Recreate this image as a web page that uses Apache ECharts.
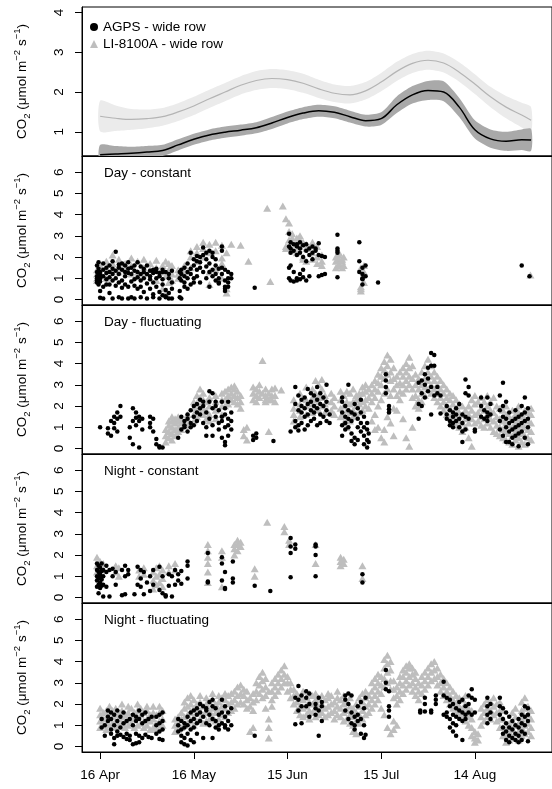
<!DOCTYPE html>
<html><head><meta charset="utf-8">
<script src="https://cdn.jsdelivr.net/npm/echarts@6/dist/echarts.min.js"></script>
<style>html,body{margin:0;padding:0;background:#fff}#c{width:552px;height:789px}</style>
</head><body><div id="c"></div>
<script>
// ---------- x axis (day of year) ----------
const xTickDays = [106, 136, 166, 196, 226];
const xTickLabels = ['16 Apr', '16 May', '15 Jun', '15 Jul', '14 Aug'];

// ---------- top panel: smoothed fits with confidence bands ----------
const smoothDays = [106,111,116,121,126,131,136,141,146,151,156,161,166,171,176,181,186,191,196,201,206,211,216,221,226,231,236,241,244];
const liMean  = [1.39,1.34,1.31,1.33,1.38,1.50,1.65,1.83,2.00,2.17,2.29,2.34,2.31,2.22,2.08,1.97,1.93,2.03,2.25,2.52,2.72,2.80,2.73,2.50,2.20,1.88,1.62,1.42,1.29];
const liLower = [1.01,1.02,1.05,1.09,1.15,1.27,1.42,1.60,1.77,1.94,2.05,2.10,2.07,1.98,1.85,1.75,1.71,1.81,2.02,2.28,2.48,2.56,2.49,2.26,1.95,1.62,1.34,1.11,0.97];
const liUpper = [1.78,1.66,1.57,1.56,1.60,1.72,1.88,2.06,2.23,2.40,2.53,2.58,2.55,2.46,2.31,2.19,2.15,2.25,2.48,2.76,2.96,3.04,2.97,2.75,2.45,2.13,1.90,1.73,1.62];
const agpsMean  = [0.42,0.44,0.46,0.49,0.53,0.67,0.81,0.92,0.99,1.04,1.10,1.22,1.36,1.47,1.53,1.49,1.38,1.28,1.33,1.68,1.93,2.04,2.00,1.62,1.05,0.82,0.76,0.80,0.79];
const agpsLower = [0.17,0.24,0.30,0.34,0.39,0.53,0.67,0.78,0.85,0.90,0.96,1.07,1.21,1.32,1.38,1.34,1.23,1.13,1.17,1.47,1.71,1.80,1.77,1.37,0.83,0.60,0.52,0.54,0.52];
const agpsUpper = [0.67,0.64,0.62,0.64,0.67,0.81,0.95,1.06,1.13,1.18,1.24,1.37,1.51,1.62,1.68,1.64,1.53,1.43,1.49,1.89,2.15,2.28,2.27,1.85,1.29,1.06,1.00,1.06,1.07];

// ---------- scatter panels: rows of [day, value, value, ...] ----------
const dayConstAGPS = [
[105,0.9,1.1,1.3,0.8,1.6,1.0],[105.5,1.2,0.7,1.45,1.75,0.95],[106,1.0,0.4,1.3,0.85,1.15,0.08],[107,1.4,0.6,1.1,1.7,0.05],
[108,0.7,1.25,1.5,0.95],[109,1.3,0.3,1.6,1.05,0.7],[110,1.2,0.05,1.45,0.9,1.8],[111,2.25,1.35,0.65,1.0],
[112,1.5,1.2,0.8,0.1,1.65],[113,1.4,0.9,1.7,0.55,0.05],[114,1.1,1.6,0.7,1.3],[115,1.75,1.25,0.6,0.05,1.45],
[116,1.5,0.85,1.2,0.1],[117,1.6,0.65,1.35,0.95,0.05],[118,1.3,1.75,0.5,1.05],[119,1.55,0.6,1.2,0.1,0.9],
[120,1.45,1.0,0.35,1.3],[121,1.2,0.75,1.6,0.05],[122,1.35,0.5,1.1,0.95],[123,1.4,0.25,1.25,0.8,0.1],
[124,1.3,0.6,1.45,1.0],[125,1.25,0.35,1.1,0.05],[126,1.4,0.7,0.2,1.3,0.95],[127,1.3,0.45,0.1,0.15],
[128,1.2,0.05,0.3,1.0],[129,0.8,0.05,1.35,0.5],
[131.5,0.4,1.3,0.1,1.0],[132,1.4,0.05,0.9,1.2],[133,1.1,0.8,1.5,0.6],[134,1.3,0.5,1.7,1.0],[135,2.2,1.2,0.7,1.45],
[136,1.6,1.0,1.9,0.8],[137,1.8,1.4,2.05,1.1],[138,2.0,1.5,0.8,1.75],[139,2.45,2.1,1.3],[140,1.9,2.2,1.55,1.0],
[141,2.3,1.7,0.6,1.3],[142,2.0,1.4,1.1,2.2],[143,1.9,1.2,0.9,1.6],[144,1.0,1.45,0.75,0.8],[145,2.5,2.3,1.5,1.2],
[146,0.9,0.5,1.4,0.6,0.4],[147,1.3,0.6,1.0,0.8],[148,1.2,1.0],[155.5,0.55],
[166.5,3.1,2.5,1.5,1.0],[167,2.7,2.4,2.2,1.6,0.9],[168,2.6,2.3,1.3,0.85],[169,2.5,2.1,2.6,1.0,0.9],[170,2.2,2.7,2.4,1.2,0.95],
[171,2.55,2.0,1.4,1.05],[172,2.6,2.3,1.8,0.9],[173,2.4,2.1,1.1],[174,2.2,2.5,1.9],[175,2.3,2.4],[176,2.65,2.1,1.1],
[177,2.05,1.15],[178,2.0,1.2],[182,3.05,2.4,2.3,2.2,1.05],[189,2.7,1.8,1.3],[190,1.0,0.7,1.2,1.5,0.95],[191,1.6,1.1],
[195,0.8],[241,1.6],[243.5,1.1]
];
const dayConstLI = [
[105,1.0,1.4,1.2,0.9],[106,1.6,1.1,1.3],[108,1.5,1.8,1.0],[110,2.1,1.7,1.4],[112,1.9,1.3,1.6],[114,1.4,1.7],
[116,1.95,1.6,1.2],[118,1.8,1.3,1.1],[120,1.9,1.5,1.2],[122,1.7,1.4],[124,1.85,1.5,0.9],[126,1.6,1.3,0.5],
[127,1.8,1.1,0.3],[128,1.7,1.4,0.8],[129,1.6,1.2,0.9],[131,1.0,1.2,1.4],[133,1.6,1.3],[135,2.0,2.3,1.5],
[137,2.5,1.8,2.2],[139,2.7,2.4,2.0],[141,2.6,2.2,1.3,0.7],[143,2.7,2.3,1.4],[145,2.55,1.7,1.95,1.0],
[146.5,0.3,0.5,2.2],[148,2.6],[151,2.55],[153.5,1.8],[159.5,4.3],[160.5,0.85],[164.5,4.4],
[165.5,3.8,2.5,2.4],[166.5,3.6,3.2,2.8,2.4],[167.5,3.1,2.9,2.7,2.3],[169,2.9,2.6,2.2],[170,3.0,2.5,2.8],
[171,2.7,2.0,1.9],[172,2.6,2.4,1.8],[174,2.7,2.2,1.9],[175.5,2.5,2.0,1.7],[177,1.8,2.1,1.6],
[181.5,1.5,1.8,2.0],[182.5,2.2,1.9,1.6,1.7,2.1],[183.5,1.8,1.5,1.9],[184,1.6,2.0],
[189.5,1.5,0.6,0.4,0.5],[190.5,1.6,1.3,0.8],[243.8,1.15]
];
const dayFlucAGPS = [
[106,1.0],[108.5,0.7,0.95],[109.5,1.3,0.6],[110.5,1.2,1.5,0.95],[111.5,1.7,1.4,0.8],[112.5,2.0,1.5],
[115.5,0.5,1.0],[116.5,1.3,1.9,0.2],[117.5,1.7,1.1,1.45],[118.5,0.05,1.5,1.3],[119.5,1.4,0.9],
[122,1.5,1.2,1.0],[123,1.4,0.8],[124,0.45,0.2],[125,0.05,0.1],[126,0.05],
[131,0.5],[132,0.9,1.5],[133,1.1,1.3,1.0],[134,1.4,0.8,1.6],[135,1.2,1.8,1.0],[136,1.5,2.0,1.1],
[137,2.1,1.7,1.3],[138,2.3,1.9,1.6],[139,2.0,1.2,2.2],[140,1.0,1.7,0.6],[141,2.7,2.2,1.4],[142,2.6,1.9,1.1,0.6],
[143,2.0,1.5,2.2],[144,1.8,1.2,0.9],[145,2.2,1.5,1.3,0.5],[146,1.9,1.6,1.0,0.3,0.15],[147,2.2,1.4,0.6,1.1],
[148,1.7,1.3,0.9],[155,0.4,0.6],[156,0.5,0.7],[161.5,0.35],[167,0.8],
[168.5,2.9,2.1,1.3,1.0],[169.5,2.5,1.8,1.1,0.85],[170.5,2.0,1.7,2.3,1.2],[171.5,2.4,1.9,1.5,0.9],
[172.5,2.8,2.1,1.6,1.1],[173.5,2.2,1.8,2.6,1.3],[174.5,2.5,2.0,1.7,1.4],[175.5,2.9,2.3,1.9,1.1],
[176.5,2.6,2.1,1.6,1.2],[177.5,2.4,2.0,1.5],[178.5,3.0,2.2,1.8,1.3],[179.5,1.6,1.2],
[183.5,1.7,2.2,2.4,1.1,0.6],[184.5,2.0,1.5,1.2,0.9],[185.5,3.0,1.8,1.4,1.0],[186.5,1.7,1.3,0.7,0.35],
[187.5,2.1,1.6,0.5,0.2],[188.5,1.9,1.4,1.0,0.4],[189.5,2.3,1.7,1.2,0.8],[190.5,1.5,1.0,0.6,0.2],
[191.5,1.2,0.9,0.4,0.05],[192,0.3,0.7],
[197.5,3.5,3.2,2.9,2.6],[198.5,2.0,1.7,1.85],
[208,3.1,2.1,1.4],[209,3.2,2.6,2.0],[210,3.5,3.0,2.4],[211,3.8,3.3,2.7],[212,4.5,3.9,2.9,1.6],[213,4.4,3.9,2.5],
[214,2.9,2.6],[215,2.5,1.65],[217,1.6,2.0,1.4],[218,1.8,1.3,1.1],[219,1.7,1.5,1.0,1.2],[220,1.6,1.3,1.9],
[221,2.1,1.4,1.0],[222,1.6,1.2,0.8,0.3],[223,3.25,2.6,1.5,0.9],[224,2.9,2.5,1.4],[226,0.8,0.9],
[228,2.4,2.0,1.5],[229,1.8,1.4],[230,2.4,1.7,1.5,1.3],[231,2.1,1.6],
[234,2.5,1.8,1.3,0.9],[235,3.1,2.0,1.5,0.6],[236,2.2,1.4,1.0,0.3],[237,1.7,1.2,0.8,0.3],[238,1.3,0.9,0.5,0.2],
[239,1.8,1.4,1.0,0.6],[240,1.5,1.1,0.7,0.1],[241,2.0,1.6,1.2,0.8],[242,2.4,1.7,1.3,0.5],[243,1.9,1.4,1.0,0.2]
];
const dayFlucLI = [
[127,0.3,0.6,0.9],[128,0.5,0.8,1.1,1.3],[129,0.4,0.7,1.0,1.3,1.5],[130,0.6,0.9,1.2,1.4],[131,0.8,1.0,1.3,1.5],
[132,0.9,1.2,1.4],[134,1.1,1.4,1.6],[136,1.3,1.6,1.9,2.2],[137,1.5,1.8,2.1,2.5],[138,1.7,2.0,2.4,2.8],
[139,1.6,1.9,2.3,2.6],[140,1.4,1.8,2.2],[141,1.3,1.6,2.0,2.4],[143,1.4,1.8,2.2,2.5],[145,1.6,2.0,2.3,2.6],
[146,2.0,2.3,2.7],[147,2.1,2.5,2.8],[148,2.3,2.6,2.9],[149,2.2,2.5,2.8,2.95],[150,2.1,2.4,2.7],[151,1.9,2.2,2.5],
[152,0.9,0.6],[153,1.0,0.4],[155,2.3,2.6,2.9],[156,2.2,2.5,2.8],[157,2.4,2.7,3.0],[158,2.6,4.15],
[159,2.3,2.5,2.8,2.2],[160,0.8,2.3,2.6],[161,2.5,2.8,2.3],[162,2.2,2.5,2.85],[164,2.75],
[168,1.3,1.6,1.9,2.3],[170,1.5,1.8,2.1,2.6],[172,1.6,2.0,2.3,2.9],[174,1.7,2.1,2.4,2.8],[175,1.9,2.3,2.6,3.2],
[176,1.8,2.2,2.5,3.0],[177,2.0,2.4,2.8,3.25],[178,1.7,2.1,2.5],[180,1.8,2.2,2.6],[181,1.6,2.0,2.4],
[183,1.5,1.9,2.3,2.7],[184,1.2,1.6,2.0,2.5],[185,1.0,1.4,1.8,2.2,2.7],[186,1.3,1.7,2.1,2.6],[187,1.5,1.8,2.2,2.8],
[188,1.6,2.0,2.3,2.5],[189,1.7,2.1,2.4,2.6],[190,1.8,2.2,2.6,2.9],[191,2.0,2.3,2.7,3.0],[192,1.9,2.4,2.8],
[193,2.2,2.6,3.0,1.3],[194,2.4,2.8,3.2,1.6,0.9],[195,2.7,3.1,3.5,2.0,1.0],[196,3.0,3.4,3.8,2.3,0.5],
[197,3.3,3.7,4.1,2.6,0.9,0.3],[198,3.5,3.9,4.4,2.8,1.5],[199,3.2,3.6,4.2,2.5,1.2],[200,2.8,3.3,3.8,1.9,0.6],
[201,2.5,3.0,3.4,1.8],[202,2.3,2.7,3.1,3.6],[203,2.6,3.0,3.4,3.8,1.4],[204,2.8,3.2,3.6,4.0,0.5],
[205,3.0,3.4,3.8,4.3,0.1],[206,2.4,2.8,3.3,3.9,1.0],[207,2.0,2.5,3.0,3.5],[208,1.9,2.3,2.8,3.3],
[209,2.2,2.6,3.0,3.6],[210,2.5,2.9,3.3,3.9],[211,2.8,3.2,3.6,4.2],[212,2.6,3.0,3.4,3.9],[213,2.4,2.8,3.2,3.6],
[214,2.2,2.6,3.0,3.4],[215,2.0,2.4,2.8,3.2],[216,1.8,2.2,2.6,3.0],[217,1.6,2.0,2.4,2.8],[218,1.5,1.9,2.3,2.6],
[219,1.3,1.7,2.1,2.5],[220,1.1,1.5,1.9,2.3],[221,1.0,1.3,1.7,2.1],[222,0.8,1.2,1.6,2.0],[223,1.0,1.4,1.8],
[224,0.5,1.2,1.6,2.0],[225,0.1,1.4,1.8,2.3],[226,1.2,1.6,2.1,2.5],[227,1.3,1.7,2.2],[228,1.1,1.5,1.9,2.4],
[229,1.0,1.4,1.8,2.2],[230,1.2,1.6,2.0,2.5],[231,1.0,1.4,1.8,2.2],[232,0.8,1.3,1.7,2.4],[233,0.7,1.1,1.5,2.0],
[234,0.6,1.0,1.4,1.9],[235,0.5,0.9,1.3,1.8],[236,0.4,0.8,1.2,1.6,2.0],[237,0.3,0.7,1.1,1.5],
[238,0.2,0.6,1.0,1.4,1.8],[239,0.4,0.8,1.2,1.6],[240,0.1,0.5,0.9,1.3,1.7,2.0],[241,0.3,0.7,1.1,1.5],
[242,0.2,0.6,1.0,1.4,1.8],[243,0.5,0.9,1.3,1.7],[244,0.4,0.8,1.2,1.6,1.9]
];
const nightConstAGPS = [
[105,1.6,1.3,1.0,0.8,0.5],[105.5,1.5,1.2,0.9,0.6,0.2],[106,1.4,1.1,0.95,0.7,0.45],[106.5,1.6,1.25,0.85,0.55],
[107,1.3,1.0,0.6,0.05],[108,1.5,1.2,0.5],[109,1.3,0.05],[110,1.35,1.0],[111,1.2,0.6],[113,0.1,1.3],
[114,1.0,1.5,0.15],[115,1.1,1.3],[117,0.15],[118,0.6,1.45],[119,1.3,0.9,0.5],[120,1.2,0.15],[121,0.7],
[122,1.0,0.3],[123,0.6,1.3],[125,1.45,0.35],[126,0.2,1.0],[127,0.05,0.1],[128,1.1,0.55],[129,1.0,0.05],
[130,1.3,0.6],[131,1.1,0.8],[132,1.25,0.65],[134,1.7,1.5,0.9],[140.5,0.75,0.7,2.1],[145,1.9,1.6,0.8],
[146,0.45,0.4,1.2],[148.5,0.7,0.9,1.7],[155.5,0.55],[160.5,0.3],[167,2.8,2.4,2.1,0.95],[168.5,2.3,2.5],
[175,2.5,2.4,2.0,1.0],[190,1.1,0.7]
];
const nightConstLI = [
[105,1.2,1.5,1.9],[106,1.1,1.4,1.7],[107,1.3,1.6],[111,1.2,1.5],[112,1.0,1.4],[118.5,1.0,1.3],[120,1.1,1.4],
[123,0.4,0.8,1.2],[124,0.6,1.0,1.4],[125,0.7,1.1,1.5],[126,0.5,0.9,1.3],[128,1.2,1.5],[130,1.3,1.6],
[140.5,0.7,1.2,1.6,1.9,2.2,2.5],[145,2.2,1.9,0.5],[149,2.0,2.3,2.5],[150,2.2,2.5,2.7],[151,2.4,2.6],
[155.5,1.35,1.0],[159.5,3.55],[165,3.35,3.1],[166.5,2.5,2.7],[175,2.5,1.6],[183,1.5,1.7,1.9],[184,1.6,1.8],
[190,1.5,0.9]
];
const nightFlucAGPS = [
[106.5,1.3,0.9],[107.5,1.0,0.5],[108.5,1.7,1.4,1.2],[109.5,1.6,1.3,0.8,0.6],[110.5,1.5,1.0,0.4,0.1],
[111.5,1.7,1.2,0.7,0.5],[112.5,1.4,0.9,0.55],[113.5,1.6,1.1,0.45],[114.5,1.2,0.6,0.35],[115.5,1.3,0.5,0.3],
[116.5,1.5,1.0,0.1],[117.5,1.4,1.2,0.6,0.15],[118.5,1.7,1.3,0.5,0.2],[119.5,1.5,1.1,0.4],[120.5,1.6,1.2,0.55],
[121.5,1.3,0.45],[122.5,1.4,0.4],[124,1.4,1.0,0.6],[125,1.5,1.1,0.7,0.35],[126,1.6,1.2,0.8,0.3],
[131,1.3,1.0,0.7],[132,1.2,0.8,0.5,0.2],[133,1.1,0.9,0.4,0.1],[134,1.4,1.0,0.6,0.05],[135,1.6,1.2,0.8,0.3],
[136,1.7,1.3,0.9,0.2],[137,1.8,1.5,1.1,0.6],[138,2.0,1.6,1.2],[139,1.9,1.4,0.4],[140,1.8,1.7,1.1],
[141,2.1,1.5,1.0],[142,2.2,1.9,1.3,0.4],[143,1.8,1.2,0.9],[144,1.5,1.0,0.8],[145,2.2,1.6,1.1],
[146,1.9,1.4,1.0,0.9],[147,1.6,1.2,0.8],[148,1.8,1.0],[155.5,0.5],
[168.5,2.3,1.05],[169.5,2.85,2.2,1.7],[170.5,2.4,1.9,1.1],[172,2.6,2.3,1.9],[173,2.5,2.0,1.4],[175,2.0,1.8,1.5],
[176,2.3,1.7,0.5],[177,2.1,1.2,1.9],[184.5,2.4,2.2,1.7],[185.5,2.5,2.0,1.3],[186.5,2.4,1.6,1.1],[187.5,1.4,1.0,0.8],
[188.5,1.9,1.5,1.2],[189.5,2.1,1.3,0.6],[190.5,1.8,1.0,0.4],[191,2.3,0.55],[197.5,3.6,3.0,2.7],[198.5,2.6,1.9,1.7,1.4],
[208.5,1.7,1.6],[210,2.3,2.0,1.65],[212,1.7,1.6],[213.5,2.4,2.2,2.0],[216,3.05,2.4,1.5],[217,2.3,1.6,1.4],
[218,2.2,1.9,1.3,0.9],[219,2.0,1.5,1.1,0.7],[220,1.8,1.4,1.0,0.5],[221,2.1,1.7,1.3],[222,2.2,1.6,1.2,0.3],
[223,1.9,1.5,1.3],[224,2.4,2.0,1.6],[225,2.7,2.3,1.5],[226,2.2,1.6],[230,2.3,1.9,1.5,1.1],[231,2.0,1.6,1.3],
[234,2.3,1.9,1.5],[235,1.8,1.3,0.9,0.6],[236,1.6,1.1,0.7,0.3],[237,1.4,0.9,0.5,0.2],[238,1.2,0.8,0.4],
[239,1.0,0.6,0.3],[240,1.3,0.9,0.5,0.2],[241,1.5,1.1,0.7,0.3],[242,1.9,1.4,1.0,0.6],[243,1.8,1.5,1.2,0.25]
];
const nightFlucLI = [
[106,0.9,1.2,1.5,1.8],[107,1.0,1.3,1.6],[108,0.8,1.1,1.4,1.7],[109,1.0,1.3,1.6,1.9],[110,1.1,1.4,1.7],
[111,0.9,1.2,1.5,1.8],[112,1.0,1.3,1.6],[113,1.1,1.4,1.7,2.0],[114,0.9,1.2,1.5],[115,1.0,1.3,1.6,1.9],
[116,1.1,1.4,1.8],[117,0.9,1.3,1.6],[118,1.0,1.4,1.7,2.0],[119,1.1,1.5,1.8],[120,0.9,1.2,1.6],
[121,1.0,1.3,1.7,1.9],[122,0.8,1.2,1.5],[123,0.9,1.3,1.6,1.9],[124,0.8,1.1,1.5],[125,0.9,1.2,1.6,1.9],
[126,1.0,1.3,1.7],[130,0.7,1.0,1.3],[131,0.8,1.1,1.4],[132,0.9,1.3,1.6],[133,1.0,1.4,1.8,2.1],
[134,1.1,1.5,1.9,2.3],[135,1.2,1.6,2.0,2.4],[136,1.0,1.4,1.8,2.2],[137,1.2,1.6,2.0],[138,1.3,1.7,2.1,2.4],
[139,1.1,1.5,1.9],[140,1.2,1.6,2.0,2.3],[141,1.3,1.7,2.1],[142,1.4,1.8,2.2,2.5],[143,1.2,1.6,2.0],
[144,1.3,1.7,2.1,2.4],[145,1.5,1.9,2.3],[146,1.4,1.8,2.2,2.5],[147,1.6,2.0,2.4],[148,1.7,2.1,2.5],
[149,1.8,2.2,2.6],[150,2.0,2.4,2.8],[151,2.1,2.5,2.9],[152,2.0,2.4,2.7],[153,1.8,2.2,2.6],[154,1.9,2.3,0.7],
[155,1.7,2.1,2.5,0.9],[156,2.2,2.6,3.0],[157,2.5,2.9,3.3],[158,2.7,3.1,3.5,2.3],[159,2.4,2.8,3.2,1.8],
[160,1.3,0.9,0.4,2.6],[161,2.2,2.6,3.0,1.9],[162,2.4,2.8,3.2],[163,2.6,3.0,3.4],[164,2.8,3.2,3.6],
[165,3.0,3.4,3.8],[166,2.6,3.0,3.3],[167,2.3,2.7,3.0],[168,2.0,2.4,2.7],[169,1.7,2.1,2.5],[170,1.5,1.9,2.3],
[171,1.4,1.8,2.2,2.6],[172,1.5,1.9,2.3],[173,1.3,1.7,2.1,2.5],[174,1.6,2.0,2.4],[175,1.4,1.8,2.2,2.5],
[176,1.5,1.9,2.3],[177,1.6,2.0,2.4],[178,1.4,1.8,2.2],[179,1.5,1.9,2.3,2.5],[180,1.6,2.0,2.4],[181,1.3,1.7,2.1],
[182,1.5,1.9,2.3,2.6],[183,1.4,1.8,2.2],[184,1.2,1.6,2.0,2.4],[185,1.3,1.7,2.1],[186,1.1,1.5,1.9,2.3],
[187,0.7,1.0,1.4,1.8],[188,0.6,1.2,1.6,2.0],[189,1.1,1.5,1.9,2.3],[190,1.3,1.7,2.1,2.5],[191,1.5,1.9,2.3,2.6],
[192,1.6,2.0,2.4],[193,1.8,2.2,2.6,3.0],[194,2.0,2.4,2.8,3.2],[195,2.2,2.6,3.0,3.4],[196,2.5,2.9,3.3,1.8],
[197,2.8,3.2,3.7,4.1,1.5],[198,3.0,3.5,3.9,4.3,0.9],[199,2.7,3.1,3.6,4.0,0.6],[200,2.3,2.7,3.1,1.2,0.8],
[201,2.0,2.4,2.8,1.0],[202,2.2,2.6,3.0,3.3],[203,2.5,2.9,3.3,3.6],[204,2.7,3.1,3.5,3.8],[205,2.9,3.3,3.7,3.9],
[206,2.6,3.0,3.4,3.7],[207,2.4,2.8,3.2,3.5],[208,2.2,2.6,3.0],[209,2.5,2.9,3.3],[210,2.7,3.1,3.5],
[211,2.9,3.3,3.7],[212,3.1,3.5,3.9],[213,3.2,3.6,4.0],[214,2.9,3.3,3.7],[215,2.6,3.0,3.4],[216,2.4,2.8,3.2],
[217,2.2,2.6,3.0],[218,2.0,2.4,2.8],[219,1.8,2.2,2.6],[220,1.6,2.0,2.4],[221,1.5,1.9,2.3],[222,1.4,1.8,2.2],
[223,1.2,1.6,2.0,2.4],[224,1.0,1.4,1.8],[225,0.5,0.9,1.3,1.7],[226,0.2,0.4,0.7],[227,0.3,0.6],
[228,1.0,1.4,1.8],[229,1.2,1.6,2.0],[230,1.4,1.8,2.2],[231,1.3,1.7,2.1],[232,1.5,1.9,2.3],[233,1.2,1.6,2.0],
[234,0.9,1.3,1.7,2.1],[235,0.5,0.9,1.3,1.7],[236,0.2,0.5,0.8],[237,0.3,0.7,1.1],[238,0.4,0.8,1.2,1.6],
[239,0.6,1.0,1.4,1.8],[240,0.3,0.7,1.1],[241,0.5,0.9,1.3,1.7,2.1],[242,0.6,1.0,1.4,1.8,2.3],[243,0.7,1.1,1.5,1.9],
[244,0.5,0.9,1.3,1.7]
];

const panelTitles = ['Day - constant', 'Day - fluctuating', 'Night - constant', 'Night - fluctuating'];
const nameAGPS = 'AGPS - wide row';
const nameLI = 'LI-8100A - wide row';

// ---------- helpers ----------
function flat(rows) { const out = []; rows.forEach(r => { for (let i = 1; i < r.length; i++) out.push([r[0], r[i]]); }); return out; }
function zip(xs, ys) { return xs.map((x, i) => [x, ys[i]]); }

const FONT = '"Liberation Sans", Arial, sans-serif';
const xMin = 100.2, xMax = 250.7;
const panelH = 149, firstTop = 7;
const grids = [], xAxes = [], yAxes = [], series = [], titles = [];
const tickMap = {}; xTickDays.forEach((d, i) => tickMap[d] = xTickLabels[i]);

for (let p = 0; p < 5; p++) {
  grids.push({ left: 82, right: -10, top: firstTop + p * panelH, height: panelH, show: true, borderColor: '#000', borderWidth: 1, backgroundColor: 'transparent' });
  const last = p === 4;
  xAxes.push({ type: 'value', gridIndex: p, min: xMin, max: xMax, splitLine: { show: false },
    axisLine: { show: true, onZero: false, lineStyle: { color: '#000' } },
    axisTick: { show: last, length: 7, lineStyle: { color: '#000' }, customValues: xTickDays },
    axisLabel: { show: last, margin: 16, fontSize: 13.5, color: '#000', fontFamily: FONT, customValues: xTickDays, formatter: v => tickMap[v] || '' } });
  const ticks = p === 0 ? [1, 2, 3, 4] : [0, 1, 2, 3, 4, 5, 6];
  yAxes.push({ type: 'value', gridIndex: p, min: p === 0 ? 0.39 : -0.26, max: p === 0 ? 4.14 : 6.76, splitLine: { show: false },
    axisLine: { show: true, onZero: false, lineStyle: { color: '#000' } },
    axisTick: { show: true, length: 7, lineStyle: { color: '#000' }, customValues: ticks },
    axisLabel: { rotate: 90, margin: 16, fontSize: 13.5, color: '#000', fontFamily: FONT, customValues: ticks },
    name: 'CO{sub|2} (μmol m{sup|−2} s{sup|−1})', nameLocation: 'middle', nameGap: 50, nameRotate: 90,
    nameTextStyle: { fontSize: 13.5, color: '#000', fontFamily: FONT, lineHeight: 20,
      rich: { sub: { fontSize: 9.5, verticalAlign: 'bottom', fontFamily: FONT, color: '#000' },
              sup: { fontSize: 9.5, verticalAlign: 'top', fontFamily: FONT, color: '#000' } } } });
  if (p > 0) titles.push({ text: panelTitles[p - 1], left: 104, top: firstTop + p * panelH + 10, padding: 0,
    textStyle: { fontSize: 13.5, fontWeight: 'normal', color: '#000', fontFamily: FONT } });
}

// top panel confidence bands as polygons through the axis scales
function bandSeries(lower, upper, color) {
  return { type: 'custom', xAxisIndex: 0, yAxisIndex: 0, silent: true, z: 1,
    data: zip(smoothDays, lower),
    renderItem: function (params, api) {
      if (params.dataIndex !== 0) return null;
      const pts = [];
      for (let i = 0; i < smoothDays.length; i++) pts.push(api.coord([smoothDays[i], upper[i]]));
      for (let i = smoothDays.length - 1; i >= 0; i--) pts.push(api.coord([smoothDays[i], lower[i]]));
      const cs = params.coordSys;
      return { type: 'polygon', shape: { points: pts, smooth: 0.25 }, style: { fill: color, stroke: null },
        clipPath: { type: 'rect', shape: { x: cs.x, y: cs.y, width: cs.width, height: cs.height } } };
    } };
}
series.push(bandSeries(liLower, liUpper, '#ebebeb'));
series.push(bandSeries(agpsLower, agpsUpper, '#a9a9a9'));
series.push({ type: 'line', name: 'li-fit', xAxisIndex: 0, yAxisIndex: 0, symbol: 'none', smooth: 0.35, silent: true, z: 3, data: zip(smoothDays, liMean), lineStyle: { color: '#b4b4b4', width: 1.2 } });
series.push({ type: 'line', name: 'agps-fit', xAxisIndex: 0, yAxisIndex: 0, symbol: 'none', smooth: 0.35, silent: true, z: 3, data: zip(smoothDays, agpsMean), lineStyle: { color: '#000', width: 1.5 } });

const scatterSets = [[dayConstLI, dayConstAGPS], [dayFlucLI, dayFlucAGPS], [nightConstLI, nightConstAGPS], [nightFlucLI, nightFlucAGPS]];
scatterSets.forEach((pair, i) => {
  const p = i + 1;
  series.push({ type: 'scatter', name: nameLI, xAxisIndex: p, yAxisIndex: p, symbol: 'triangle', symbolSize: [8, 7], silent: true,
    itemStyle: { color: '#bebebe', opacity: 1 }, data: flat(pair[0]) });
  series.push({ type: 'scatter', name: nameAGPS, xAxisIndex: p, yAxisIndex: p, symbol: 'circle', symbolSize: 4.5, silent: true,
    itemStyle: { color: '#000', opacity: 1 }, data: flat(pair[1]) });
});

const chart = echarts.init(document.getElementById('c'), null, { renderer: 'canvas' });
chart.setOption({
  animation: false,
  backgroundColor: '#fff',
  textStyle: { fontFamily: FONT },
  title: titles,
  legend: { orient: 'vertical', left: 85, top: 15, itemWidth: 8, itemHeight: 8, itemGap: 3, selectedMode: false,
    textStyle: { fontSize: 13.5, color: '#000', fontFamily: FONT },
    data: [{ name: nameAGPS, icon: 'circle' }, { name: nameLI, icon: 'triangle' }] },
  grid: grids, xAxis: xAxes, yAxis: yAxes, series: series
});
</script></body></html>
